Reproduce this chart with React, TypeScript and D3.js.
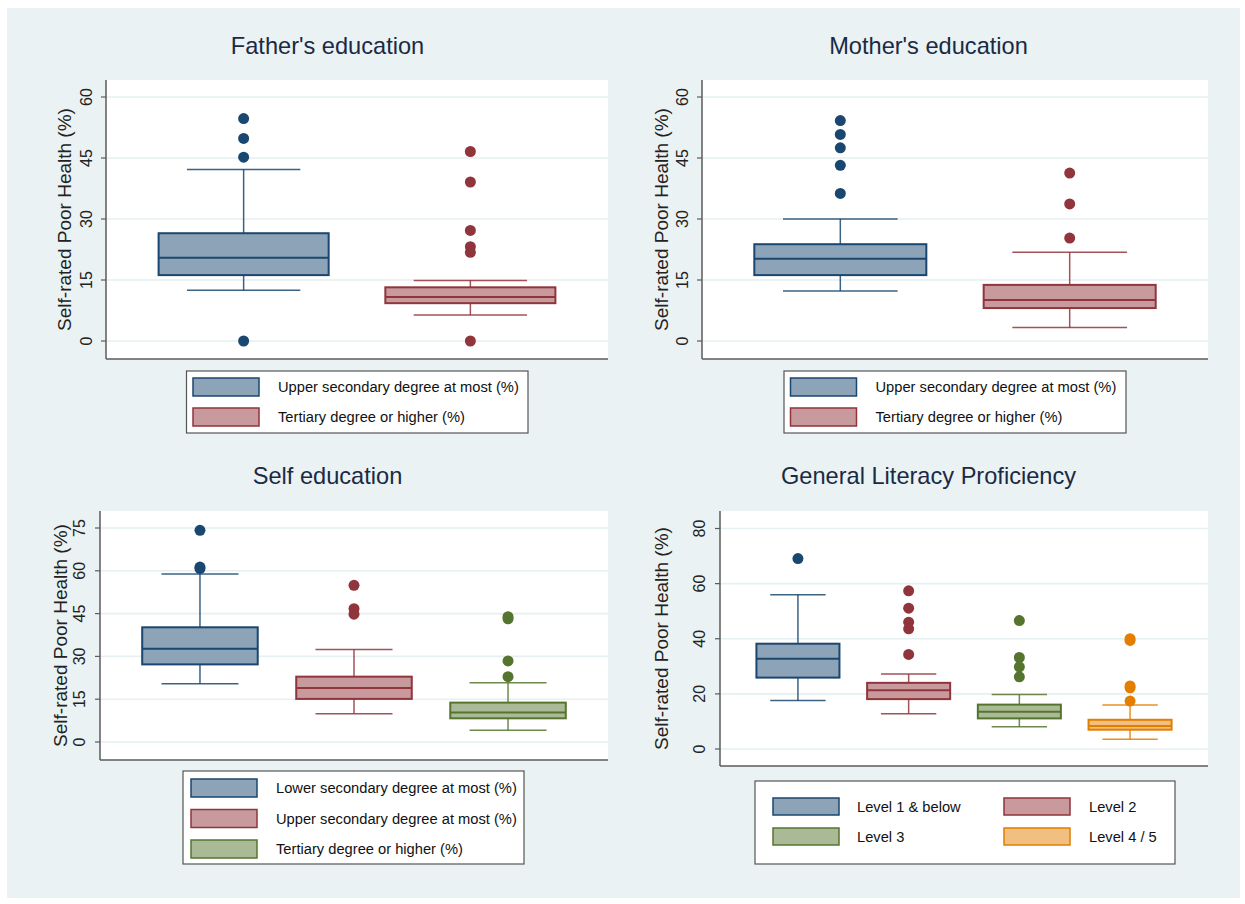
import React from "react";
import * as d3 from "d3";

// Series colours (Stata s2color: navy, maroon, forest green, dark orange)
const navy = "#1A476F";
const maroon = "#90353B";
const forest = "#55752F";
const dkorange = "#E37E00";

// Father's education
const fatherGroups = ["Upper secondary degree at most (%)", "Tertiary degree or higher (%)"];
const fatherLowW = [12.5, 6.4];
const fatherQ1 = [16.2, 9.3];
const fatherMed = [20.5, 10.8];
const fatherQ3 = [26.5, 13.2];
const fatherHighW = [42.2, 14.9];
const fatherOut = [
  [54.7, 49.8, 45.2, 0],
  [46.6, 39.1, 27.2, 23.2, 21.8, 0],
];
const fatherTicks = [0, 15, 30, 45, 60];

// Mother's education
const motherGroups = ["Upper secondary degree at most (%)", "Tertiary degree or higher (%)"];
const motherLowW = [12.3, 3.3];
const motherQ1 = [16.2, 8.1];
const motherMed = [20.2, 10.1];
const motherQ3 = [23.8, 13.8];
const motherHighW = [30.0, 21.8];
const motherOut = [
  [54.2, 50.8, 47.5, 43.2, 36.3],
  [41.3, 33.7, 25.3],
];
const motherTicks = [0, 15, 30, 45, 60];

// Self education
const selfGroups = [
  "Lower secondary degree at most (%)",
  "Upper secondary degree at most (%)",
  "Tertiary degree or higher (%)",
];
const selfLowW = [20.4, 9.9, 4.1];
const selfQ1 = [27.2, 15.1, 8.3];
const selfMed = [32.7, 18.9, 10.3];
const selfQ3 = [40.2, 22.9, 13.8];
const selfHighW = [58.9, 32.4, 20.8];
const selfOut = [
  [74.2, 61.3, 60.8],
  [54.9, 46.7, 44.8],
  [43.9, 43.2, 28.4, 22.9],
];
const selfTicks = [0, 15, 30, 45, 60, 75];

// General literacy proficiency
const litGroups = ["Level 1 & below", "Level 2", "Level 3", "Level 4 / 5"];
const litLowW = [17.6, 12.8, 8.1, 3.5];
const litQ1 = [25.9, 18.1, 11.1, 7.0];
const litMed = [32.7, 21.3, 13.5, 8.3];
const litQ3 = [38.2, 24.0, 16.1, 10.6];
const litHighW = [56.0, 27.2, 19.8, 16.0];
const litOut = [
  [69.1],
  [57.4, 51.1, 46.0, 43.6, 34.3],
  [46.6, 33.2, 29.8, 26.2],
  [40.0, 39.4, 22.9, 22.2, 17.4],
];
const litTicks = [0, 20, 40, 60, 80];

const FONT = "'Liberation Sans', Arial, Helvetica, sans-serif";
const yTitle = "Self-rated Poor Health (%)";

const lighten = (c: string) => d3.interpolateRgb(c, "#ffffff")(0.5);

type PanelProps = {
  title: string;
  titleX: number;
  titleY: number;
  x0: number;
  x1: number;
  top: number;
  bottom: number;
  yZero: number;
  yMaxPx: number;
  ticks: number[];
  tickLabelX: number;
  yTitleX: number;
  padOuter: number;
  groups: string[];
  colors: string[];
  lowW: number[];
  q1: number[];
  med: number[];
  q3: number[];
  highW: number[];
  out: number[][];
};

function Panel(p: PanelProps) {
  const maxTick = p.ticks[p.ticks.length - 1];
  const y = d3.scaleLinear().domain([0, maxTick]).range([p.yZero, p.yMaxPx]);
  const x = d3
    .scaleBand<string>()
    .domain(p.groups)
    .range([p.x0, p.x1])
    .paddingInner(0.25)
    .paddingOuter(p.padOuter);
  const bw = x.bandwidth();
  const capW = (bw * 2) / 3;
  const midY = (p.top + p.bottom) / 2;

  return (
    <g>
      <text
        x={p.titleX}
        y={p.titleY}
        textAnchor="middle"
        fontSize={23.6}
        fill="#1B2A44"
        fontFamily={FONT}
      >
        {p.title}
      </text>
      <rect x={p.x0} y={p.top} width={p.x1 - p.x0} height={p.bottom - p.top} fill="#ffffff" />
      {p.ticks.map((t) => (
        <g key={t}>
          <line x1={p.x0} x2={p.x1} y1={y(t)} y2={y(t)} stroke="#E6EFF1" strokeWidth={1.6} />
          <line x1={p.x0 - 5} x2={p.x0} y1={y(t)} y2={y(t)} stroke="#5b5b5b" strokeWidth={1.2} />
          <text
            transform={`translate(${p.tickLabelX},${y(t)}) rotate(-90)`}
            textAnchor="middle"
            dominantBaseline="central"
            fontSize={16}
            fill="#222"
            fontFamily={FONT}
          >
            {t}
          </text>
        </g>
      ))}
      <text
        transform={`translate(${p.yTitleX},${midY}) rotate(-90)`}
        textAnchor="middle"
        dominantBaseline="central"
        fontSize={19}
        fill="#222"
        fontFamily={FONT}
      >
        {yTitle}
      </text>
      <line x1={p.x0} x2={p.x0} y1={p.top} y2={p.bottom} stroke="#5b5b5b" strokeWidth={1.5} />
      <line x1={p.x0} x2={p.x1} y1={p.bottom} y2={p.bottom} stroke="#5b5b5b" strokeWidth={1.5} />
      {p.groups.map((g, i) => {
        const c = p.colors[i];
        const left = x(g) as number;
        const cx = left + bw / 2;
        return (
          <g key={g}>
            <line x1={cx} x2={cx} y1={y(p.q3[i])} y2={y(p.highW[i])} stroke={c} strokeWidth={1.5} strokeOpacity={0.85} />
            <line x1={cx} x2={cx} y1={y(p.q1[i])} y2={y(p.lowW[i])} stroke={c} strokeWidth={1.5} strokeOpacity={0.85} />
            <line x1={cx - capW / 2} x2={cx + capW / 2} y1={y(p.highW[i])} y2={y(p.highW[i])} stroke={c} strokeWidth={1.5} strokeOpacity={0.85} />
            <line x1={cx - capW / 2} x2={cx + capW / 2} y1={y(p.lowW[i])} y2={y(p.lowW[i])} stroke={c} strokeWidth={1.5} strokeOpacity={0.85} />
            <rect
              x={left}
              y={y(p.q3[i])}
              width={bw}
              height={y(p.q1[i]) - y(p.q3[i])}
              fill={lighten(c)}
              stroke={c}
              strokeWidth={2}
            />
            <line x1={left} x2={left + bw} y1={y(p.med[i])} y2={y(p.med[i])} stroke={c} strokeWidth={2} />
            {p.out[i].map((v, j) => (
              <circle key={j} cx={cx} cy={y(v)} r={5.5} fill={c} />
            ))}
          </g>
        );
      })}
    </g>
  );
}

type LegendProps = {
  x: number;
  y: number;
  w: number;
  h: number;
  items: string[];
  colors: string[];
  cols: number;
  swatchDx: number[];
  textDx: number[];
  rowY: number[];
  swatchH: number;
};

function Legend(l: LegendProps) {
  return (
    <g>
      <rect x={l.x} y={l.y} width={l.w} height={l.h} fill="#ffffff" stroke="#555" strokeWidth={1.2} />
      {l.items.map((it, i) => {
        const col = i % l.cols;
        const row = Math.floor(i / l.cols);
        const ry = l.y + l.rowY[row];
        return (
          <g key={it}>
            <rect
              x={l.x + l.swatchDx[col]}
              y={ry}
              width={66}
              height={l.swatchH}
              fill={lighten(l.colors[i])}
              stroke={l.colors[i]}
              strokeWidth={1.5}
            />
            <text
              x={l.x + l.textDx[col]}
              y={ry + l.swatchH / 2}
              dominantBaseline="central"
              fontSize={14.7}
              fill="#111"
              fontFamily={FONT}
            >
              {it}
            </text>
          </g>
        );
      })}
    </g>
  );
}

export default function App() {
  return (
    <svg
      width={1245}
      height={904}
      style={{ position: "absolute", left: 0, top: 0, display: "block" }}
    >
      <rect x={0} y={0} width={1245} height={904} fill="#ffffff" />
      <rect x={7} y={8} width={1233} height={890} fill="#EAF2F3" />

      <Panel
        title="Father's education"
        titleX={327.5}
        titleY={54}
        x0={106}
        x1={608}
        top={80}
        bottom={359}
        yZero={341}
        yMaxPx={97}
        ticks={fatherTicks}
        tickLabelX={86}
        yTitleX={64}
        padOuter={0.232}
        groups={fatherGroups}
        colors={[navy, maroon]}
        lowW={fatherLowW}
        q1={fatherQ1}
        med={fatherMed}
        q3={fatherQ3}
        highW={fatherHighW}
        out={fatherOut}
      />
      <Legend
        x={186.5}
        y={371}
        w={341.5}
        h={62}
        items={fatherGroups}
        colors={[navy, maroon]}
        cols={1}
        swatchDx={[6.5]}
        textDx={[91.5]}
        rowY={[7, 37]}
        swatchH={18}
      />

      <Panel
        title="Mother's education"
        titleX={928.5}
        titleY={54}
        x0={702}
        x1={1208}
        top={80}
        bottom={359}
        yZero={341}
        yMaxPx={97}
        ticks={motherTicks}
        tickLabelX={682}
        yTitleX={661}
        padOuter={0.228}
        groups={motherGroups}
        colors={[navy, maroon]}
        lowW={motherLowW}
        q1={motherQ1}
        med={motherMed}
        q3={motherQ3}
        highW={motherHighW}
        out={motherOut}
      />
      <Legend
        x={784}
        y={371}
        w={342}
        h={62}
        items={motherGroups}
        colors={[navy, maroon]}
        cols={1}
        swatchDx={[6.5]}
        textDx={[91.5]}
        rowY={[7, 37]}
        swatchH={18}
      />

      <Panel
        title="Self education"
        titleX={327.5}
        titleY={484}
        x0={100}
        x1={608}
        top={511}
        bottom={760}
        yZero={742}
        yMaxPx={528}
        ticks={selfTicks}
        tickLabelX={79}
        yTitleX={60}
        padOuter={0.274}
        groups={selfGroups}
        colors={[navy, maroon, forest]}
        lowW={selfLowW}
        q1={selfQ1}
        med={selfMed}
        q3={selfQ3}
        highW={selfHighW}
        out={selfOut}
      />
      <Legend
        x={183}
        y={771}
        w={341}
        h={93}
        items={selfGroups}
        colors={[navy, maroon, forest]}
        cols={1}
        swatchDx={[8]}
        textDx={[93]}
        rowY={[8, 38.5, 69]}
        swatchH={18}
      />

      <Panel
        title="General Literacy Proficiency"
        titleX={928.5}
        titleY={484}
        x0={720}
        x1={1208}
        top={511}
        bottom={766}
        yZero={749}
        yMaxPx={528.5}
        ticks={litTicks}
        tickLabelX={699}
        yTitleX={661}
        padOuter={0.329}
        groups={litGroups}
        colors={[navy, maroon, forest, dkorange]}
        lowW={litLowW}
        q1={litQ1}
        med={litMed}
        q3={litQ3}
        highW={litHighW}
        out={litOut}
      />
      <Legend
        x={755}
        y={781}
        w={420}
        h={83}
        items={litGroups}
        colors={[navy, maroon, forest, dkorange]}
        cols={2}
        swatchDx={[18, 249]}
        textDx={[102, 334]}
        rowY={[17, 47]}
        swatchH={17}
      />
    </svg>
  );
}
